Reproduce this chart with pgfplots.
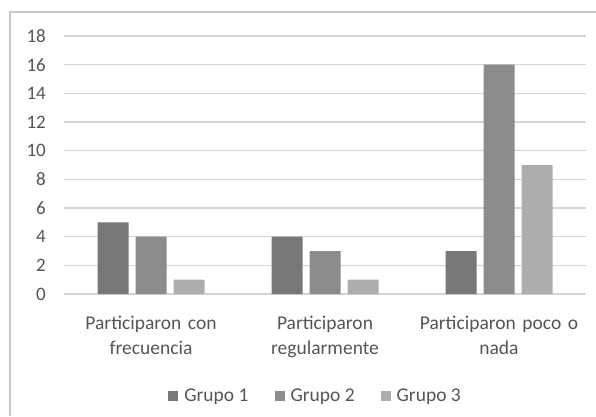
\documentclass[border=0pt]{standalone}
\usepackage{pgfplots}
\pgfplotsset{compat=1.18}
\usepackage{fontspec}
\setmainfont{Carlito}

\definecolor{txt}{HTML}{555555}
\definecolor{gridc}{HTML}{D4D4D4}
\definecolor{frm}{HTML}{C8C8C8}
\definecolor{gA}{HTML}{777777}
\definecolor{gB}{HTML}{8C8C8C}
\definecolor{gC}{HTML}{ADADAD}

\begin{document}
\begin{tikzpicture}[x=1pt,y=1pt]
\useasboundingbox (0,0) rectangle (596,416);
% chart frame (left and top edges)
\draw[frm, line width=1.4pt] (10,0) -- (10,404) -- (596,404);
\begin{axis}[
  at={(64pt,122pt)}, anchor=south west,
  scale only axis, width=522pt, height=258pt,
  xmin=-0.5, xmax=2.5, ymin=0, ymax=18,
  ytick={0,2,...,18},
  xtick={0,1,2},
  xticklabels={{Participaron con\\frecuencia}, {Participaron\\regularmente}, {Participaron poco o\\nada}},
  axis line style={draw=none},
  ymajorgrids, grid style={gridc, line width=1.2pt},
  major tick length=0pt,
  /pgf/number format/assume math mode=true,
  yticklabel style={inner sep=0pt, xshift=-18pt, text=txt, font=\fontsize{19}{22}\selectfont},
  xticklabel style={inner sep=0pt, yshift=-22pt, text=txt, text width=190pt, align=center,
                    font=\fontsize{19.5}{25}\selectfont},
  ybar=7pt, bar width=31pt,
  legend columns=3,
  legend style={at={(0.482,-0.395)}, anchor=center, draw=none, fill=none,
                font=\fontsize{19.5}{22}\selectfont, text=txt,
                /tikz/every even column/.append style={column sep=24pt}},
  legend image code/.code={\fill[#1] (0pt,-5pt) rectangle (10pt,5pt);},
]
\addplot[fill=gA, draw=none] coordinates {(0,5) (1,4) (2,3)};
\addplot[fill=gB, draw=none] coordinates {(0,4) (1,3) (2,16)};
\addplot[fill=gC, draw=none] coordinates {(0,1) (1,1) (2,9)};
\legend{\hspace*{4pt}Grupo 1, \hspace*{4pt}Grupo 2, \hspace*{4pt}Grupo 3}
\end{axis}
\end{tikzpicture}
\end{document}
